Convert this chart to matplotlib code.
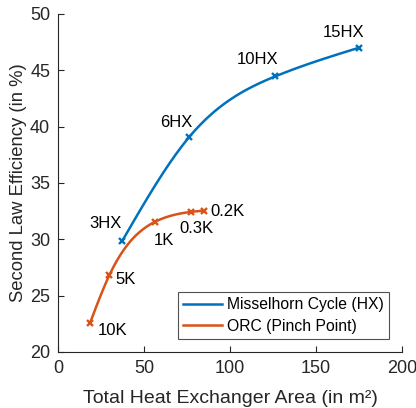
import numpy as np
import matplotlib
matplotlib.use("Agg")
import matplotlib.pyplot as plt

plt.rcParams['font.family'] = ['Liberation Sans', 'DejaVu Sans']

# Misselhorn cycle, number of heat exchangers
hx_area = [37.0, 76.0, 126.3, 174.8]
hx_eff = [29.83, 39.06, 44.47, 47.0]
hx_labels = ['3HX', '6HX', '10HX', '15HX']

# ORC, pinch point temperature difference
orc_area = [18.3, 29.6, 56.4, 77.0, 84.6]
orc_eff = [22.55, 26.81, 31.57, 32.43, 32.55]
orc_labels = ['10K', '5K', '1K', '0.3K', '0.2K']


def spline(x, y, n=200):
    # natural cubic spline through the points, used only to draw the line smoothly
    x = np.asarray(x, float)
    y = np.asarray(y, float)
    m = len(x)
    h = np.diff(x)
    A = np.zeros((m, m))
    b = np.zeros(m)
    A[0, 0] = A[-1, -1] = 1
    for i in range(1, m - 1):
        A[i, i - 1] = h[i - 1]
        A[i, i] = 2 * (h[i - 1] + h[i])
        A[i, i + 1] = h[i]
        b[i] = 6 * ((y[i + 1] - y[i]) / h[i] - (y[i] - y[i - 1]) / h[i - 1])
    M = np.linalg.solve(A, b)
    xs = np.linspace(x[0], x[-1], n)
    k = np.clip(np.searchsorted(x, xs) - 1, 0, m - 2)
    t0 = x[k + 1] - xs
    t1 = xs - x[k]
    hk = h[k]
    ys = (M[k] * t0**3 + M[k + 1] * t1**3) / (6 * hk) \
        + (y[k] / hk - M[k] * hk / 6) * t0 + (y[k + 1] / hk - M[k + 1] * hk / 6) * t1
    return xs, ys


blue = '#0072BD'
orange = '#D95319'
dark = '#262626'

fig = plt.figure(figsize=(4.16, 4.08), dpi=100)
ax = fig.add_axes([0.1406, 0.1373, 0.8257, 0.8284])

xs, ys = spline(hx_area, hx_eff)
ax.plot(xs, ys, color=blue, lw=1.8, label='Misselhorn Cycle (HX)')
ax.plot(hx_area, hx_eff, 'x', color=blue, ms=4.5, mew=1.7)

xs, ys = spline(orc_area, orc_eff)
ax.plot(xs, ys, color=orange, lw=1.8, label='ORC (Pinch Point)')
ax.plot(orc_area, orc_eff, 'x', color=orange, ms=4.5, mew=1.7)

# point labels
fs = 12
hx_pos = [(27.5, 31.37), (68.4, 40.39), (116.0, 45.92), (165.9, 48.4)]
for lab, (tx, ty) in zip(hx_labels, hx_pos):
    ax.text(tx, ty, lab, ha='center', va='center', fontsize=fs, color='black')

orc_pos = [(22.6, 21.87), (33.3, 26.4), (55.6, 29.88), (70.2, 30.92), (88.2, 32.43)]
for lab, (tx, ty) in zip(orc_labels, orc_pos):
    ax.text(tx, ty, lab, ha='left', va='center', fontsize=fs, color='black')

ax.set_xlim(0, 200)
ax.set_ylim(20, 50)
ax.set_xticks([0, 50, 100, 150, 200])
ax.set_yticks([20, 25, 30, 35, 40, 45, 50])
ax.tick_params(direction='in', length=4, width=0.8, colors=dark, labelsize=13, pad=6)
for s in ['top', 'right']:
    ax.spines[s].set_visible(False)
for s in ['left', 'bottom']:
    ax.spines[s].set_color(dark)
    ax.spines[s].set_linewidth(0.8)

ax.set_xlabel('Total Heat Exchanger Area (in m²)', fontsize=14, color=dark, labelpad=9)
ax.set_ylabel('Second Law Efficiency (in %)', fontsize=13.3, color=dark, labelpad=2)

leg = ax.legend(loc='lower right', bbox_to_anchor=(0.963, 0.038), fontsize=11.3,
                frameon=True, fancybox=False, edgecolor=dark, handlelength=2.5,
                handletextpad=0.3, borderpad=0.35, labelspacing=0.4, borderaxespad=0)
leg.get_frame().set_linewidth(0.8)

fig.savefig('out.png', dpi=100)
